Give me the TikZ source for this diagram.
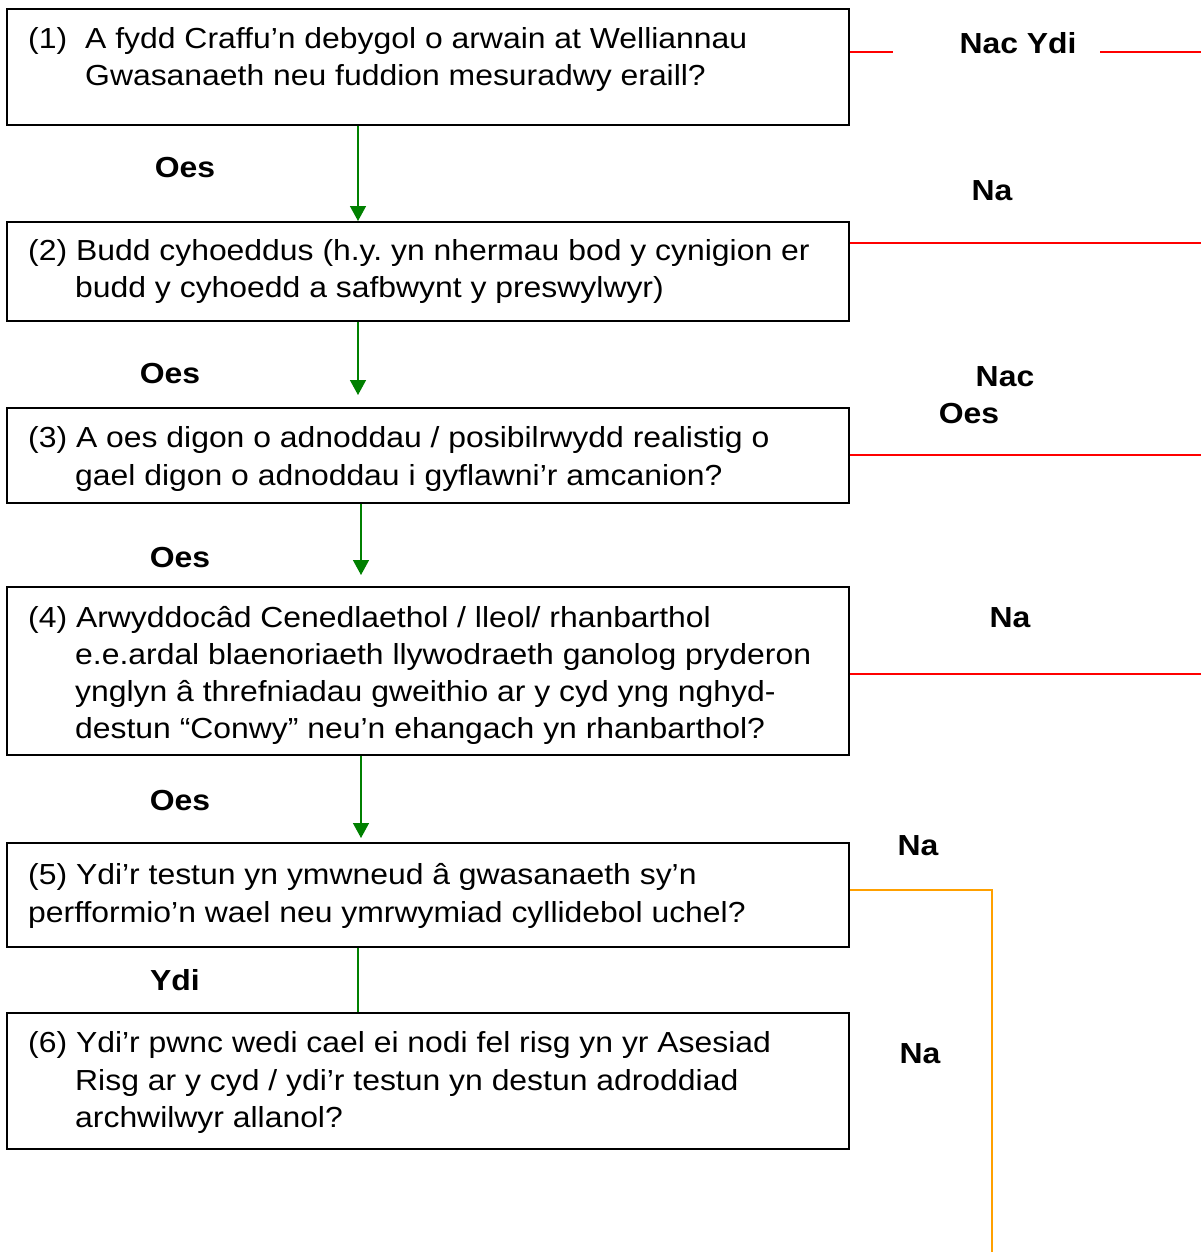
\documentclass[tikz,border=0pt]{standalone}
\usepackage{fontspec}
\setmainfont[FakeStretch=1.1]{Liberation Sans}
\usetikzlibrary{arrows.meta}
\frenchspacing
\definecolor{gline}{RGB}{0,128,0}
\definecolor{rline}{RGB}{255,0,0}
\definecolor{oline}{RGB}{255,160,0}
\tikzset{
  qbox/.style={draw=black, line width=1.8pt, anchor=north west, inner sep=0pt, fill=white},
  qtxt/.style={anchor=base west, inner sep=0pt, font=\fontsize{29}{34}\selectfont},
  lbl/.style={anchor=base, inner sep=0pt, font=\fontsize{29}{34}\selectfont\bfseries},
  garrow/.style={draw=gline, line width=1.5pt, -{Triangle[width=16pt,length=15pt]}},
  gplain/.style={draw=gline, line width=1.5pt},
  rl/.style={draw=rline, line width=1.5pt},
  ol/.style={draw=oline, line width=1.5pt},
}
\begin{document}
\begin{tikzpicture}[x=1pt,y=-1pt]
\useasboundingbox (0,0) rectangle (1201,1254);
% boxes
\node[qbox, minimum width=842pt, minimum height=116pt] (b1) at (6,8) {};
\node[qbox, minimum width=842pt, minimum height=99pt] (b2) at (6,221) {};
\node[qbox, minimum width=842pt, minimum height=95pt] (b3) at (6,407) {};
\node[qbox, minimum width=842pt, minimum height=168pt] (b4) at (6,586) {};
\node[qbox, minimum width=842pt, minimum height=104pt] (b5) at (6,842) {};
\node[qbox, minimum width=842pt, minimum height=136pt] (b6) at (6,1012) {};
% box texts
\node[qtxt] (t1n) at (28,48) {(1)};
\node[qtxt] (t1a) at (85,48) {A fydd Craffu’n debygol o arwain at Welliannau};
\node[qtxt] (t1b) at (85,85) {Gwasanaeth neu fuddion mesuradwy eraill?};
\node[qtxt] (t2a) at (28,260) {(2) Budd cyhoeddus (h.y. yn nhermau bod y cynigion er};
\node[qtxt] (t2b) at (75,297) {budd y cyhoedd a safbwynt y preswylwyr)};
\node[qtxt] (t3a) at (28,447) {(3) A oes digon o adnoddau / posibilrwydd realistig o};
\node[qtxt] (t3b) at (75,485) {gael digon o adnoddau i gyflawni’r amcanion?};
\node[qtxt] (t4a) at (28,627) {(4) Arwyddocâd Cenedlaethol / lleol/ rhanbarthol};
\node[qtxt] (t4b) at (75,664) {e.e.ardal blaenoriaeth llywodraeth ganolog pryderon};
\node[qtxt] (t4c) at (75,701) {ynglyn â threfniadau gweithio ar y cyd yng nghyd-};
\node[qtxt] (t4d) at (75,738) {destun “Conwy” neu’n ehangach yn rhanbarthol?};
\node[qtxt] (t5a) at (28,884) {(5) Ydi’r testun yn ymwneud â gwasanaeth sy’n};
\node[qtxt] (t5b) at (28,922) {perfformio’n wael neu ymrwymiad cyllidebol uchel?};
\node[qtxt] (t6a) at (28,1052) {(6) Ydi’r pwnc wedi cael ei nodi fel risg yn yr Asesiad};
\node[qtxt] (t6b) at (75,1090) {Risg ar y cyd / ydi’r testun yn destun adroddiad};
\node[qtxt] (t6c) at (75,1127) {archwilwyr allanol?};
% left labels
\node[lbl] (l1) at (185,177) {Oes};
\node[lbl] (l2) at (170,383) {Oes};
\node[lbl] (l3) at (180,567) {Oes};
\node[lbl] (l4) at (180,810) {Oes};
\node[lbl] (l5) at (175,990) {Ydi};
% right labels
\node[lbl] (r1) at (1018,53) {Nac Ydi};
\node[lbl] (r2) at (992,200) {Na};
\node[lbl] (r3a) at (1005,386) {Nac};
\node[lbl] (r3b) at (969,423) {Oes};
\node[lbl] (r4) at (1010,627) {Na};
\node[lbl] (r5) at (918,855) {Na};
\node[lbl] (r6) at (920,1063) {Na};
% helper coordinates
\coordinate (xa) at (358,0);
\coordinate (xb) at (361,0);
\coordinate (e2) at (358,395);
\coordinate (e3) at (361,575);
\coordinate (e4) at (361,838);
\coordinate (ry1) at (0,52);
\coordinate (ry2) at (0,243);
\coordinate (ry3) at (0,455);
\coordinate (ry4) at (0,674);
\coordinate (oy) at (0,890);
\coordinate (redgap1) at (893,52);
\coordinate (redgap2) at (1100,52);
\coordinate (redend1) at (1201,52);
\coordinate (redend2) at (1201,243);
\coordinate (redend3) at (1201,455);
\coordinate (redend4) at (1201,674);
\coordinate (ocorner) at (992,890);
\coordinate (oend) at (992,1252);
% green connectors
\draw[garrow] (b1.south -| xa) -- (b2.north -| xa);
\draw[garrow] (b2.south -| xa) -- (e2);
\draw[garrow] (b3.south -| xb) -- (e3);
\draw[garrow] (b4.south -| xb) -- (e4);
\draw[gplain] (b5.south -| xa) -- (b6.north -| xa);
% red connectors
\draw[rl] (b1.east |- ry1) -- (redgap1);
\draw[rl] (redgap2) -- (redend1);
\draw[rl] (b2.east |- ry2) -- (redend2);
\draw[rl] (b3.east |- ry3) -- (redend3);
\draw[rl] (b4.east |- ry4) -- (redend4);
% orange connector
\draw[ol] (b5.east |- oy) -- (ocorner) -- (oend);
\end{tikzpicture}
\end{document}
